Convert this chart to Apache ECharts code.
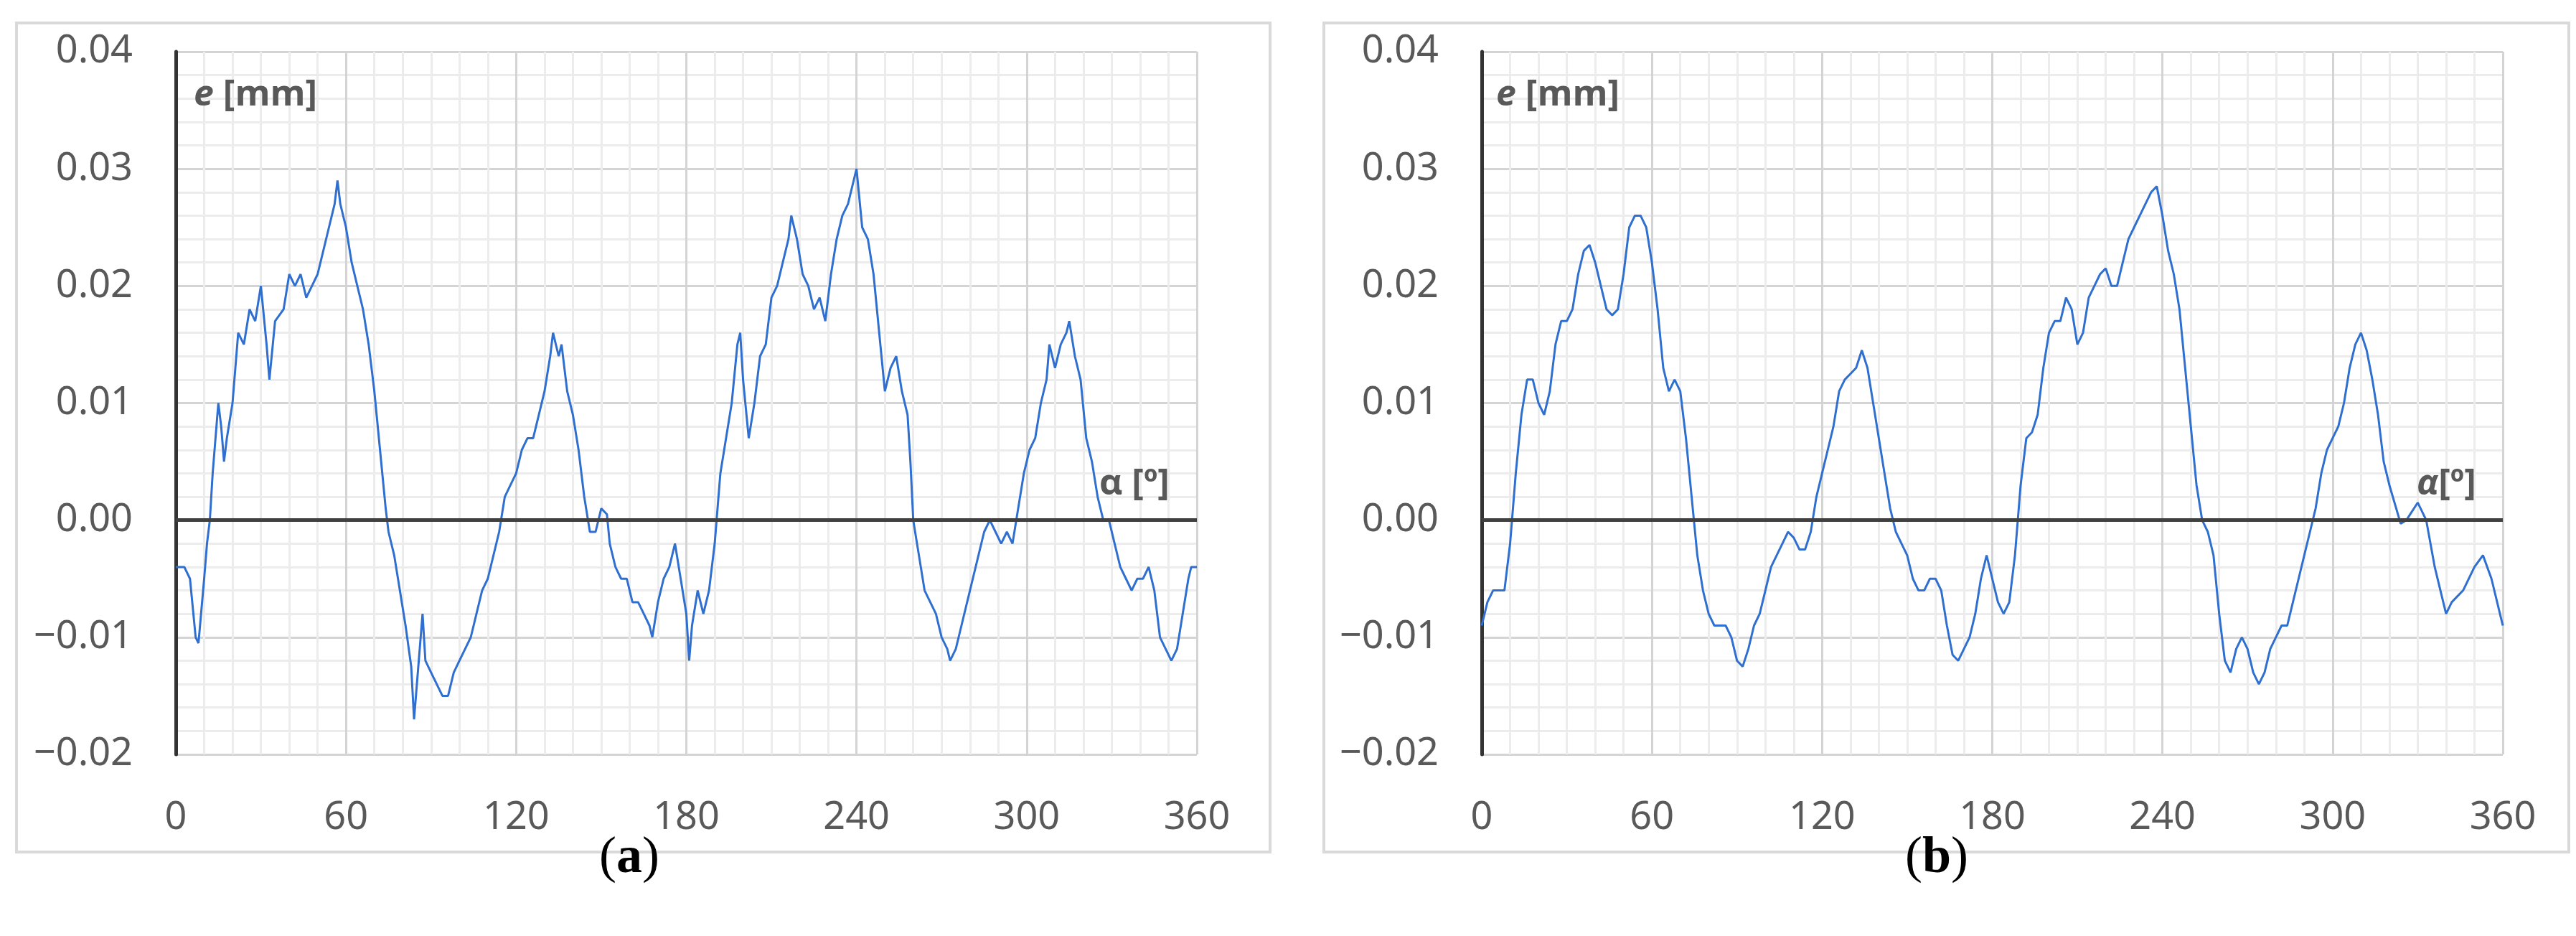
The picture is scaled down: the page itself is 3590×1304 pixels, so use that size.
<!DOCTYPE html>
<html>
<head>
<meta charset="utf-8">
<script src="https://cdn.jsdelivr.net/npm/echarts@6/dist/echarts.min.js"></script>
<style>html,body{margin:0;background:#fff}#chart{width:3590px;height:1304px}</style>
</head>
<body>
<div id="chart"></div>
<script>
// readings from the two panels: angle [deg] and eccentricity e [mm]
const anglesA = [0,3,5,7,8,10,11,12,13,15,16,17,18,20,22,24,26,28,30,32,33,35,38,40,42,44,46,48,50,52,54,56,57,58,60,62,64,66,68,70,72,74,75,77,79,81,83,84,85,87,88,90,92,94,96,98,100,102,104,106,108,110,112,114,116,118,120,122,124,126,128,130,132,133,135,136,138,140,142,144,146,148,150,152,153,155,157,159,161,163,165,167,168,170,172,174,176,178,180,181,182,184,186,188,190,192,194,196,198,199,200,202,204,206,208,210,212,214,216,217,219,221,223,225,227,229,231,233,235,237,239,240,242,244,246,248,250,252,254,256,258,259,260,262,264,266,268,270,272,273,275,277,279,281,283,285,287,289,291,293,295,297,299,301,303,305,307,308,310,312,314,315,317,319,321,323,325,327,329,331,333,335,337,339,341,343,345,347,349,351,353,355,357,358,360];
const errorA = [-0.004,-0.004,-0.005,-0.010,-0.0105,-0.005,-0.002,0.000,0.004,0.010,0.008,0.005,0.007,0.010,0.016,0.015,0.018,0.017,0.020,0.015,0.012,0.017,0.018,0.021,0.020,0.021,0.019,0.020,0.021,0.023,0.025,0.027,0.029,0.027,0.025,0.022,0.020,0.018,0.015,0.011,0.006,0.001,-0.001,-0.003,-0.006,-0.009,-0.0125,-0.017,-0.014,-0.008,-0.012,-0.013,-0.014,-0.015,-0.015,-0.013,-0.012,-0.011,-0.010,-0.008,-0.006,-0.005,-0.003,-0.001,0.002,0.003,0.004,0.006,0.007,0.007,0.009,0.011,0.014,0.016,0.014,0.015,0.011,0.009,0.006,0.002,-0.001,-0.001,0.001,0.0005,-0.002,-0.004,-0.005,-0.005,-0.007,-0.007,-0.008,-0.009,-0.010,-0.007,-0.005,-0.004,-0.002,-0.005,-0.008,-0.012,-0.009,-0.006,-0.008,-0.006,-0.002,0.004,0.007,0.010,0.015,0.016,0.012,0.007,0.010,0.014,0.015,0.019,0.020,0.022,0.024,0.026,0.024,0.021,0.020,0.018,0.019,0.017,0.021,0.024,0.026,0.027,0.029,0.030,0.025,0.024,0.021,0.016,0.011,0.013,0.014,0.011,0.009,0.005,0.000,-0.003,-0.006,-0.007,-0.008,-0.010,-0.011,-0.012,-0.011,-0.009,-0.007,-0.005,-0.003,-0.001,0.000,-0.001,-0.002,-0.001,-0.002,0.001,0.004,0.006,0.007,0.010,0.012,0.015,0.013,0.015,0.016,0.017,0.014,0.012,0.007,0.005,0.002,0.000,0.000,-0.002,-0.004,-0.005,-0.006,-0.005,-0.005,-0.004,-0.006,-0.010,-0.011,-0.012,-0.011,-0.008,-0.005,-0.004,-0.004];

const anglesB = [0,2,4,6,8,10,12,14,16,18,20,22,24,26,28,30,32,34,36,38,40,42,44,46,48,50,52,54,56,58,60,62,64,66,68,70,72,74,76,78,80,82,84,86,88,90,92,94,96,98,100,102,104,106,108,110,112,114,116,118,120,122,124,126,128,130,132,134,136,138,140,142,144,146,148,150,152,154,156,158,160,162,164,166,168,170,172,174,176,178,180,182,184,186,188,190,192,194,196,198,200,202,204,206,208,210,212,214,216,218,220,222,224,226,228,230,232,234,236,238,240,242,244,246,248,250,252,254,256,258,260,262,264,266,268,270,272,274,276,278,280,282,284,286,288,290,292,294,296,298,300,302,304,306,308,310,312,314,316,318,320,324,326,330,333,336,338,340,342,346,350,353,356,358,360];
const errorB = [-0.009,-0.007,-0.006,-0.006,-0.006,-0.002,0.004,0.009,0.012,0.012,0.010,0.009,0.011,0.015,0.017,0.017,0.018,0.021,0.023,0.0235,0.022,0.020,0.018,0.0175,0.018,0.021,0.025,0.026,0.026,0.025,0.022,0.018,0.013,0.011,0.012,0.011,0.007,0.002,-0.003,-0.006,-0.008,-0.009,-0.009,-0.009,-0.010,-0.012,-0.0125,-0.011,-0.009,-0.008,-0.006,-0.004,-0.003,-0.002,-0.001,-0.0015,-0.0025,-0.0025,-0.001,0.002,0.004,0.006,0.008,0.011,0.012,0.0125,0.013,0.0145,0.013,0.010,0.007,0.004,0.001,-0.001,-0.002,-0.003,-0.005,-0.006,-0.006,-0.005,-0.005,-0.006,-0.009,-0.0115,-0.012,-0.011,-0.010,-0.008,-0.005,-0.003,-0.005,-0.007,-0.008,-0.007,-0.003,0.003,0.007,0.0075,0.009,0.013,0.016,0.017,0.017,0.019,0.018,0.015,0.016,0.019,0.020,0.021,0.0215,0.020,0.020,0.022,0.024,0.025,0.026,0.027,0.028,0.0285,0.026,0.023,0.021,0.018,0.013,0.008,0.003,0.000,-0.001,-0.003,-0.008,-0.012,-0.013,-0.011,-0.010,-0.011,-0.013,-0.014,-0.013,-0.011,-0.010,-0.009,-0.009,-0.007,-0.005,-0.003,-0.001,0.001,0.004,0.006,0.007,0.008,0.010,0.013,0.015,0.016,0.0145,0.012,0.009,0.005,0.003,-0.0003,0.000,0.0015,0.000,-0.004,-0.006,-0.008,-0.007,-0.006,-0.004,-0.003,-0.005,-0.007,-0.009];

const xTicks = [0, 60, 120, 180, 240, 300, 360];
const yTicks = [-0.02, -0.01, 0, 0.01, 0.02, 0.03, 0.04];

const labelFont = "'Liberation Sans Narrow', 'Noto Sans', sans-serif";
const grey = "#595959";

const pair = (xs, ys) => xs.map((x, i) => [x, ys[i]]);

function axes(gi) {
    const x = {
        type: "value", gridIndex: gi,
        min: xTicks[0], max: xTicks[xTicks.length - 1], interval: 60,
        axisLine: { show: false }, axisTick: { show: false },
        axisLabel: { color: grey, fontSize: 54, fontFamily: labelFont, margin: 62 },
        splitLine: { lineStyle: { color: "#d4d4d4", width: 3 } },
        minorTick: { show: false, splitNumber: 6 },
        minorSplitLine: { show: true, lineStyle: { color: "#ececec", width: 3 } },
    };
    const y = {
        type: "value", gridIndex: gi,
        min: yTicks[0], max: yTicks[yTicks.length - 1], interval: 0.01,
        axisLine: { show: true, lineStyle: { color: "#333", width: 5 } },
        axisTick: { show: false },
        axisLabel: {
            color: grey, fontSize: 54, fontFamily: labelFont, margin: 60,
            formatter: (v) => (v < 0 ? "\u2212" : "") + Math.abs(v).toFixed(2),
        },
        splitLine: { lineStyle: { color: "#d4d4d4", width: 3 } },
        minorTick: { show: false, splitNumber: 5 },
        minorSplitLine: { show: true, lineStyle: { color: "#ececec", width: 3 } },
    };
    return [x, y];
}

function series(gi, data) {
    return {
        type: "line", xAxisIndex: gi, yAxisIndex: gi, data,
        showSymbol: false, symbol: "none",
        lineStyle: { color: "#2f6fcf", width: 3 },
        markLine: {
            silent: true, symbol: "none", label: { show: false },
            lineStyle: { color: "#404040", width: 5, type: "solid" },
            data: [{ yAxis: 0 }],
        },
        z: 3,
    };
}

const [xa, ya] = axes(0);
const [xb, yb] = axes(1);

const chart = echarts.init(document.getElementById("chart"));
chart.setOption({
    backgroundColor: "#fff",
    animation: false,
    grid: [
        { left: 245, top: 72, width: 1423, height: 979 },
        { left: 2065, top: 72, width: 1423, height: 979 },
    ],
    xAxis: [xa, xb],
    yAxis: [ya, yb],
    series: [series(0, pair(anglesA, errorA)), series(1, pair(anglesB, errorB))],
    graphic: [
        { type: "rect", shape: { x: 23, y: 32, width: 1747, height: 1155 }, style: { fill: null, stroke: "#d9d9d9", lineWidth: 4 } },
        { type: "rect", shape: { x: 1845, y: 32, width: 1735, height: 1155 }, style: { fill: null, stroke: "#d9d9d9", lineWidth: 4 } },
        { type: "text", left: 270, top: 108, z: 10, style: { text: "{i|e} [mm]", fill: grey, font: "bold 50px 'Open Sans', sans-serif", rich: { i: { fontStyle: "italic", fontWeight: "bold", fontSize: 50, fontFamily: "Open Sans", fill: grey } } } },
        { type: "text", left: 1532, top: 650, z: 10, style: { text: "\u03b1 [\u00ba]", fill: grey, font: "bold 50px 'Open Sans', sans-serif" } },
        { type: "text", left: 2085, top: 108, z: 10, style: { text: "{i|e} [mm]", fill: grey, font: "bold 50px 'Open Sans', sans-serif", rich: { i: { fontStyle: "italic", fontWeight: "bold", fontSize: 50, fontFamily: "Open Sans", fill: grey } } } },
        { type: "text", left: 3368, top: 650, z: 10, style: { text: "{i|\u03b1}[\u00ba]", fill: grey, font: "bold 50px 'Open Sans', sans-serif", rich: { i: { fontStyle: "italic", fontWeight: "bold", fontSize: 50, fontFamily: "Open Sans", fill: grey } } } },
        { type: "text", left: 835, top: 1160, style: { text: "({b|a})", fill: "#000", font: "72px 'Liberation Serif', serif", rich: { b: { fontWeight: "bold", fontSize: 72, fontFamily: "Liberation Serif", fill: "#000" } } } },
        { type: "text", left: 2655, top: 1160, style: { text: "({b|b})", fill: "#000", font: "72px 'Liberation Serif', serif", rich: { b: { fontWeight: "bold", fontSize: 72, fontFamily: "Liberation Serif", fill: "#000" } } } },
    ],
});
</script>
</body>
</html>
